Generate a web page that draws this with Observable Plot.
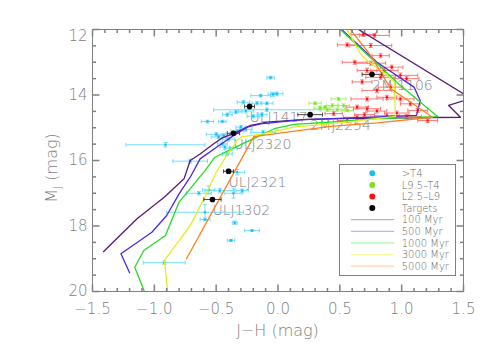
<!DOCTYPE html>
<html><head><meta charset="utf-8">
<script src="https://cdn.jsdelivr.net/npm/d3@7"></script>
<script src="https://cdn.jsdelivr.net/npm/@observablehq/plot@0.6"></script>
<style>body{margin:0;background:#fff;} svg{display:block;}</style>
</head><body>
<script>
// ---------- data ----------
// >T4 (T dwarfs)
const tJH  = [-0.06,-0.01,-0.04,-0.14,-0.09,-0.17,-0.28,-0.26,-0.34,-0.41,-0.57,-0.45,-0.09,-0.91,-0.30,-0.26,-0.44,-0.48,-0.40,-0.43,-0.38,-0.45,-0.41,-0.12,-0.71,-0.33,-0.64,-0.56,-0.47,-0.36,-0.29,-0.59,-0.59,-0.35,-0.21,-0.38,-0.92,-0.50,-0.33,-0.20,-0.13];
const tMJ  = [13.47,13.96,13.98,14.02,14.25,14.25,14.22,14.49,14.52,14.60,14.81,14.81,14.45,15.52,14.98,15.05,15.24,15.28,15.35,15.59,15.64,15.49,15.80,15.14,16.02,16.36,17.00,16.90,16.92,17.00,16.92,17.58,17.80,17.90,18.14,18.44,19.12,15.20,15.10,14.65,14.60];
const tJHe = [0.03,0.05,0.04,0.08,0.05,0.04,0.05,0.06,0.05,0.04,0.05,0.03,0.43,0.32,0.04,0.05,0.05,0.06,0.05,0.04,0.05,0.04,0.04,0.10,0.14,0.06,0.10,0.05,0.12,0.07,0.05,0.31,0.04,0.02,0.06,0.03,0.17,0.08,0.05,0.05,0.04];
const tMJe = [0.04,0.05,0.06,0.04,0.04,0.05,0.05,0.06,0.05,0.05,0.04,0.04,0.05,0.07,0.05,0.05,0.06,0.05,0.05,0.06,0.05,0.05,0.05,0.06,0.06,0.08,0.05,0.12,0.07,0.15,0.05,0.23,0.04,0.05,0.03,0.03,0.05,0.05,0.05,0.05,0.05];
// L9.5-T4
const lJH  = [0.49,0.44,0.53,0.40,0.48,0.56,0.38,0.30,0.34];
const lMJ  = [14.12,14.32,14.32,14.45,14.45,14.47,14.37,14.25,14.40];
const lJHe = [0.06,0.05,0.05,0.05,0.06,0.05,0.04,0.05,0.05];
const lMJe = [0.04,0.05,0.05,0.05,0.05,0.04,0.05,0.04,0.05];
// L2.5-L9
const rJH  = [0.69,0.78,0.75,0.56,0.83,0.75,0.62,0.92,0.86,0.72,0.99,0.83,1.04,0.91,0.80,0.88,0.99,0.72,1.07,0.64,0.72,0.80,0.88,0.64,1.04,1.21,0.56,1.13,0.45,0.96,0.70,0.68];
const rMJ  = [12.15,12.18,12.49,12.47,12.80,13.03,13.00,13.15,13.25,13.25,13.40,13.46,13.50,13.76,13.86,14.07,14.12,14.12,14.27,14.37,14.42,14.49,14.63,14.68,14.66,14.78,14.78,14.47,14.57,14.55,14.60,13.60];
const rJHe = [0.10,0.12,0.17,0.08,0.07,0.12,0.10,0.09,0.11,0.08,0.14,0.12,0.10,0.10,0.12,0.08,0.11,0.13,0.08,0.09,0.11,0.08,0.10,0.11,0.12,0.08,0.08,0.08,0.07,0.10,0.08,0.08];
const rMJe = [0.06,0.06,0.06,0.06,0.06,0.06,0.06,0.06,0.06,0.07,0.07,0.06,0.06,0.07,0.07,0.06,0.06,0.06,0.06,0.06,0.07,0.06,0.06,0.06,0.06,0.06,0.06,0.06,0.06,0.06,0.06,0.06];
// Targets
const tgtName = ["ULJ1417","2MJ2254","ULJ2320","ULJ2321","ULJ1302","2MJ1106"];
const tgtJH   = [-0.23,0.26,-0.36,-0.40,-0.53,0.76];
const tgtMJ   = [14.35,14.60,15.17,16.33,17.19,13.37];
const tgtJHe  = [0.04,0.10,0.05,0.04,0.07,0.08];
const tgtMJe  = [0.07,0.04,0.05,0.06,0.05,0.06];
// Isochrones
const iso100JH  = [0.63,1.56,1.38,1.475,1.0,0.5,0.2,-0.09,-0.22,-0.36,-0.45,-0.52,-0.63,-0.71,-0.76,-0.92,-1.14,-1.41];
const iso100MJ  = [11.95,14.1,14.32,14.68,14.70,14.72,14.75,14.83,14.93,15.18,15.31,15.49,15.80,16.0,16.56,17.12,17.78,18.78];
const iso500JH  = [0.50,0.80,1.10,1.15,1.12,0.6,0.2,-0.14,-0.25,-0.36,-0.48,-0.63,-0.71,-0.80,-0.90,-1.02,-1.27,-1.20];
const iso500MJ  = [11.95,13.0,13.76,14.17,14.62,14.70,14.75,14.88,14.98,15.24,15.55,15.95,16.51,17.02,17.68,18.19,18.85,19.43];
const iso1000JH = [0.49,0.99,1.29,0.8,0.42,0.13,-0.03,-0.18,-0.36,-0.51,-0.59,-0.71,-0.80,-0.91,-1.085,-1.158,-1.07];
const iso1000MJ = [11.95,13.71,14.66,14.72,14.83,14.90,15.03,15.30,15.62,15.90,16.31,16.86,17.27,18.29,18.75,19.26,20.1];
const iso3000JH = [0.55,0.667,0.72,0.87,0.94,0.95,0.5,0.127,-0.142,-0.29,-0.33,-0.425,-0.506,-0.586,-0.708,-0.918,-0.89];
const iso3000MJ = [11.95,12.74,12.95,13.35,13.6,14.65,14.85,14.98,15.2,15.27,15.39,15.9,16.41,17.07,17.98,19.05,20.1];
const iso5000JH = [0.575,0.75,0.91,1.25,0.8,0.424,-0.196,-0.74];
const iso5000MJ = [11.95,12.8,13.8,14.68,14.85,14.96,15.27,19.0];
const isoNames  = ["100 Myr","500 Myr","1000 Myr","3000 Myr","5000 Myr"];
const groupNames = [">T4","L9.5\u2013T4","L2.5\u2013L9","Targets"];
// ticks
const xMajor = [-1.5,-1.0,-0.5,0.0,0.5,1.0,1.5];
const yMajor = [12,14,16,18,20];

// ---------- styles ----------
const isoColors = ["#581a78","#4a2ae0","#22dd22","#e2ee22","#ff7f1e"];
const grpDot = ["#1ec0f0","#7ee01e","#ff1010","#000000"];
const grpBar = ["#66d8ff","#9cf060","#ff6a6a","#333333"];
const gray = "#808080";
const font = "DejaVu Sans";

const rows = (X,Y,XE,YE) => X.map((x,i)=>({x, y:Y[i], xe:XE[i], ye:YE[i]}));
const tRows = rows(tJH,tMJ,tJHe,tMJe);
const lRows = rows(lJH,lMJ,lJHe,lMJe);
const rRows = rows(rJH,rMJ,rJHe,rMJe);
const gRows = rows(tgtJH,tgtMJ,tgtJHe,tgtMJe).map((d,i)=>({...d, name:tgtName[i]}));
const isoSets = [[iso100JH,iso100MJ],[iso500JH,iso500MJ],[iso1000JH,iso1000MJ],[iso3000JH,iso3000MJ],[iso5000JH,iso5000MJ]];

const sym = f => ({draw(c,s){const r=Math.sqrt(s/Math.PI); f(c,r);}});
const vbar = sym((c,r)=>{c.moveTo(0,-r);c.lineTo(0,r);});
const hbar = sym((c,r)=>{c.moveTo(-r,0);c.lineTo(r,0);});
const tUp = sym((c,r)=>{c.moveTo(0,0);c.lineTo(0,-r);});
const tDown = sym((c,r)=>{c.moveTo(0,0);c.lineTo(0,r);});
const tRight = sym((c,r)=>{c.moveTo(0,0);c.lineTo(r,0);});
const tLeft = sym((c,r)=>{c.moveTo(0,0);c.lineTo(-r,0);});

function errMarks(data, bar, dot, dotR){
  const cap = 2;
  return [
    Plot.link(data,{x1:d=>d.x-d.xe,x2:d=>d.x+d.xe,y1:"y",y2:"y",stroke:bar,strokeWidth:0.9}),
    Plot.link(data,{x1:"x",x2:"x",y1:d=>d.y-d.ye,y2:d=>d.y+d.ye,stroke:bar,strokeWidth:0.9}),
    Plot.dot(data,{x:d=>d.x-d.xe,y:"y",symbol:vbar,r:cap,stroke:bar,fill:"none",strokeWidth:0.9}),
    Plot.dot(data,{x:d=>d.x+d.xe,y:"y",symbol:vbar,r:cap,stroke:bar,fill:"none",strokeWidth:0.9}),
    Plot.dot(data,{x:"x",y:d=>d.y-d.ye,symbol:hbar,r:cap,stroke:bar,fill:"none",strokeWidth:0.9}),
    Plot.dot(data,{x:"x",y:d=>d.y+d.ye,symbol:hbar,r:cap,stroke:bar,fill:"none",strokeWidth:0.9}),
    Plot.dot(data,{x:"x",y:"y",r:dotR,fill:dot,stroke:"none"})
  ];
}

const xMinor = d3.range(-15,16).map(v=>v/10).filter(v=>!xMajor.some(m=>Math.abs(m-v)<1e-9));
const yMinor = d3.range(24,41).map(v=>v/2).filter(v=>!yMajor.includes(v));

const tickMarks = [
  Plot.dot(xMajor,{x:d=>d,y:()=>20,symbol:tUp,r:7,stroke:gray,fill:"none"}),
  Plot.dot(xMinor,{x:d=>d,y:()=>20,symbol:tUp,r:3.5,stroke:gray,fill:"none"}),
  Plot.dot(xMajor,{x:d=>d,y:()=>12,symbol:tDown,r:7,stroke:gray,fill:"none"}),
  Plot.dot(xMinor,{x:d=>d,y:()=>12,symbol:tDown,r:3.5,stroke:gray,fill:"none"}),
  Plot.dot(yMajor,{y:d=>d,x:()=>-1.5,symbol:tRight,r:7,stroke:gray,fill:"none"}),
  Plot.dot(yMinor,{y:d=>d,x:()=>-1.5,symbol:tRight,r:3.5,stroke:gray,fill:"none"}),
  Plot.dot(yMajor,{y:d=>d,x:()=>1.5,symbol:tLeft,r:7,stroke:gray,fill:"none"}),
  Plot.dot(yMinor,{y:d=>d,x:()=>1.5,symbol:tLeft,r:3.5,stroke:gray,fill:"none"})
];

const plot = Plot.plot({
  width:491, height:350, marginLeft:92, marginRight:28, marginTop:29, marginBottom:59,
  x:{domain:[-1.5,1.5]},
  y:{domain:[12,20], reverse:true},
  style:{fontFamily:font, background:"white", fontWeight:200},
  marks:[
    Plot.text(gRows,{x:"x",y:"y",text:"name",textAnchor:"start",lineAnchor:"top",dy:5.5,fontSize:14,fill:gray}),
    ...errMarks(tRows,grpBar[0],grpDot[0],1.3),
    ...errMarks(lRows,grpBar[1],grpDot[1],1.3),
    ...errMarks(rRows,grpBar[2],grpDot[2],1.3),
    ...isoSets.map((s,k)=>Plot.line(s[0].map((x,i)=>({x,y:s[1][i]})),{x:"x",y:"y",stroke:isoColors[k],strokeWidth:1.3,clip:true})),
    ...errMarks(gRows,grpBar[3],grpDot[3],2.8),
    Plot.frame({stroke:gray}),
    ...tickMarks,
    Plot.axisX(xMajor,{anchor:"bottom",tickSize:0,tickPadding:12,tickFormat:d3.format(".1f"),fontSize:15,color:gray,label:null}),
    Plot.axisY(yMajor.filter(d=>d!==12),{anchor:"left",tickSize:0,tickPadding:5,fontSize:15,color:gray,label:null}),
    Plot.text(yMajor.filter(d=>d===12),{x:()=>-1.5,y:d=>d,text:d=>String(d),textAnchor:"end",dx:-5,dy:7,fontSize:15,fill:gray})
  ]
});
document.body.appendChild(plot);

// titles and legend
const svg = d3.select(plot);
svg.append("text").attr("x",277.5).attr("y",336).attr("text-anchor","middle")
  .attr("font-family",font).attr("font-size",16).attr("fill",gray).text("J\u2212H (mag)");
const yt = svg.append("text").attr("transform","translate(57,168) rotate(-90)").attr("text-anchor","middle")
  .attr("font-family",font).attr("font-size",16).attr("fill",gray);
yt.append("tspan").text("M");
yt.append("tspan").attr("font-size",11).attr("dy",4).text("J");
yt.append("tspan").attr("dy",-4).text(" (mag)");

const lg = svg.append("g").attr("font-family",font).attr("font-size",10).attr("fill","#666").attr("text-anchor","start");
lg.append("rect").attr("x",339.5).attr("y",164.5).attr("width",116).attr("height",111)
  .attr("fill","white").attr("stroke",gray);
const rowY = i => 173.3 + i*11.6;
groupNames.forEach((n,i)=>{
  lg.append("circle").attr("cx",372.3).attr("cy",rowY(i)).attr("r",3).attr("fill",grpDot[i]);
  lg.append("text").attr("x",401.7).attr("y",rowY(i)+3.6).attr("text-anchor","start").text(n);
});
isoNames.forEach((n,k)=>{
  const i = k+4;
  lg.append("line").attr("x1",351).attr("x2",394).attr("y1",rowY(i)).attr("y2",rowY(i))
    .attr("stroke",isoColors[k]).attr("stroke-opacity",0.45).attr("stroke-width",1);
  lg.append("text").attr("x",401.7).attr("y",rowY(i)+3.6).attr("text-anchor","start").text(n);
});
</script>
</body></html>
